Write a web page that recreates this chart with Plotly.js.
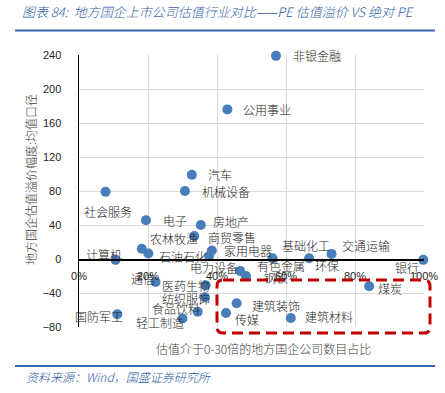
<!DOCTYPE html>
<html>
<head>
<meta charset="utf-8">
<script src="https://cdn.plot.ly/plotly-3.0.1.min.js"></script>
<style>html,body{margin:0;padding:0;background:#fff;}#chart{width:445px;height:393px;}</style>
</head>
<body>
<div id="chart"></div>
<script>
// Data
var industries = ['非银金融','公用事业','汽车','机械设备','社会服务','电子','房地产','商贸零售','农林牧渔','石油石化',
  '计算机','家用电器','电力设备','有色金属','钢铁','基础化工','环保','交通运输','银行','通信',
  '医药生物','纺织服饰','食品饮料','轻工制造','国防军工','煤炭','建筑装饰','传媒','建筑材料'];
var shareUnder30 = [0.571,0.430,0.327,0.307,0.077,0.194,0.353,0.334,0.182,0.201,
  0.106,0.385,0.377,0.467,0.484,0.561,0.667,0.732,0.998,0.222,
  0.367,0.365,0.344,0.300,0.111,0.841,0.457,0.426,0.614];
var pePremium = [239,176,99,80,79,45.5,40,27,12,6.5,
  -1,10,3.5,-14,-20,0.8,0.8,6,-1,-27,
  -31,-45,-62,-70,-65,-32,-52,-63.5,-69.5];
var xTickVals = [0,0.2,0.4,0.6,0.8,1.0];
var xTickText = ['0%','20%','40%','60%','80%','100%'];
var yTickVals = [-80,-40,0,40,80,120,160,200,240];

// Label offsets (pixels from each point to label's left edge / vertical centre)
var labelDx = [15,14,14,15,-24,15,10,12,6,9,
  -32,10,-21,15,16,7,4,8,-30,-27,
  -46,-45,-48,-49,-44,7,13,7,12];
var labelDy = [0,0,0,0,20,0,-4,1,-10,3,
  -5,0,11,-5,1,-13,7,-8,8,-3,
  0,1,-3,4,2,2,2,7,-2];

var cjk = '"Noto Sans CJK SC", "Noto Sans", sans-serif';
var latin = '"Liberation Sans", Arial, sans-serif';
var blue = '#2f5ea8';

var annotations = industries.map(function(name, i){
  return {x: shareUnder30[i], y: pePremium[i], xref:'x', yref:'y', text: name, showarrow:false,
    xanchor:'left', yanchor:'middle', xshift: labelDx[i], yshift: -labelDy[i],
    font:{family: cjk, size:12, color:'#262626', weight:300}};
});
// axis titles and footer
annotations.push({xref:'paper', yref:'paper', x:(263-79)/345, y:(327-348)/272, text:'估值介于0-30倍的地方国企公司数目占比',
  showarrow:false, xanchor:'center', yanchor:'middle', font:{family:cjk, size:12, color:'#404040', weight:300}});
annotations.push({xref:'paper', yref:'paper', x:(30-79)/345, y:(327-180)/272, text:'地方国企估值溢价幅度:均值口径',
  textangle:-90, showarrow:false, xanchor:'center', yanchor:'middle', font:{family:cjk, size:12, color:'#404040', weight:300}});
annotations.push({xref:'paper', yref:'paper', x:(24-79)/345, y:(327-376)/272, text:'资料来源：Wind，国盛证券研究所',
  showarrow:false, xanchor:'left', yanchor:'middle', font:{family:cjk, size:12, color:blue, style:'italic', weight:300}});

function px(x){return (x-79)/345;}
function py(y){return (327-y)/272;}
var rx = 6/345, ry = 6/272;
var x0 = px(217), x1 = px(430), y0 = py(333), y1 = py(280);
var roundRect = 'M ' + (x0+rx) + ' ' + y1 + ' L ' + (x1-rx) + ' ' + y1 + ' Q ' + x1 + ' ' + y1 + ' ' + x1 + ' ' + (y1-ry) +
  ' L ' + x1 + ' ' + (y0+ry) + ' Q ' + x1 + ' ' + y0 + ' ' + (x1-rx) + ' ' + y0 +
  ' L ' + (x0+rx) + ' ' + y0 + ' Q ' + x0 + ' ' + y0 + ' ' + x0 + ' ' + (y0+ry) +
  ' L ' + x0 + ' ' + (y1-ry) + ' Q ' + x0 + ' ' + y1 + ' ' + (x0+rx) + ' ' + y1 + ' Z';

var shapes = [
  {type:'line', xref:'paper', yref:'paper', x0:px(15), x1:px(435), y0:py(30.5), y1:py(30.5), line:{color:'#3566b0', width:2}},
  {type:'line', xref:'paper', yref:'paper', x0:px(15), x1:px(435), y0:py(366), y1:py(366), line:{color:'#3566b0', width:2}},
  {type:'path', xref:'paper', yref:'paper', path: roundRect, line:{color:'#c00000', width:3, dash:'11px,6px'}}
];

var trace = {
  type:'scatter', mode:'markers', x: shareUnder30, y: pePremium, text: industries,
  marker:{color:'#4a7ebb', size:10}, cliponaxis:false, hoverinfo:'text'
};

var layout = {
  width:445, height:393,
  margin:{l:79, r:21, t:55, b:66, pad:0},
  paper_bgcolor:'#fff', plot_bgcolor:'#fff',
  showlegend:false,
  title:{text:'图表 84:  地方国企上市公司估值行业对比——PE 估值溢价 VS 绝对 PE', xref:'container', yref:'container',
    x:22/445, xanchor:'left', y:1-12/393, yanchor:'middle', font:{family:cjk, size:13, color:blue, style:'italic', weight:300}},
  xaxis:{range:[0,1], tickvals:xTickVals, ticktext:xTickText, showgrid:true, gridcolor:'#d9d9d9', gridwidth:1,
    zeroline:false, showline:true, linecolor:'#000', linewidth:1.5, anchor:'free', position:0.25,
    ticks:'', ticklabelstandoff:6, tickfont:{family:latin, size:11, color:'#262626'}, fixedrange:true},
  yaxis:{range:[-80,240], tickvals:yTickVals, showgrid:true, gridcolor:'#d9d9d9', gridwidth:1,
    zeroline:false, showline:true, linecolor:'#000', linewidth:1.5, ticks:'', ticklabelstandoff:14,
    tickfont:{family:latin, size:11, color:'#262626'}, fixedrange:true},
  annotations: annotations,
  shapes: shapes
};

Plotly.newPlot('chart', [trace], layout, {displayModeBar:false, staticPlot:true});
</script>
</body>
</html>
